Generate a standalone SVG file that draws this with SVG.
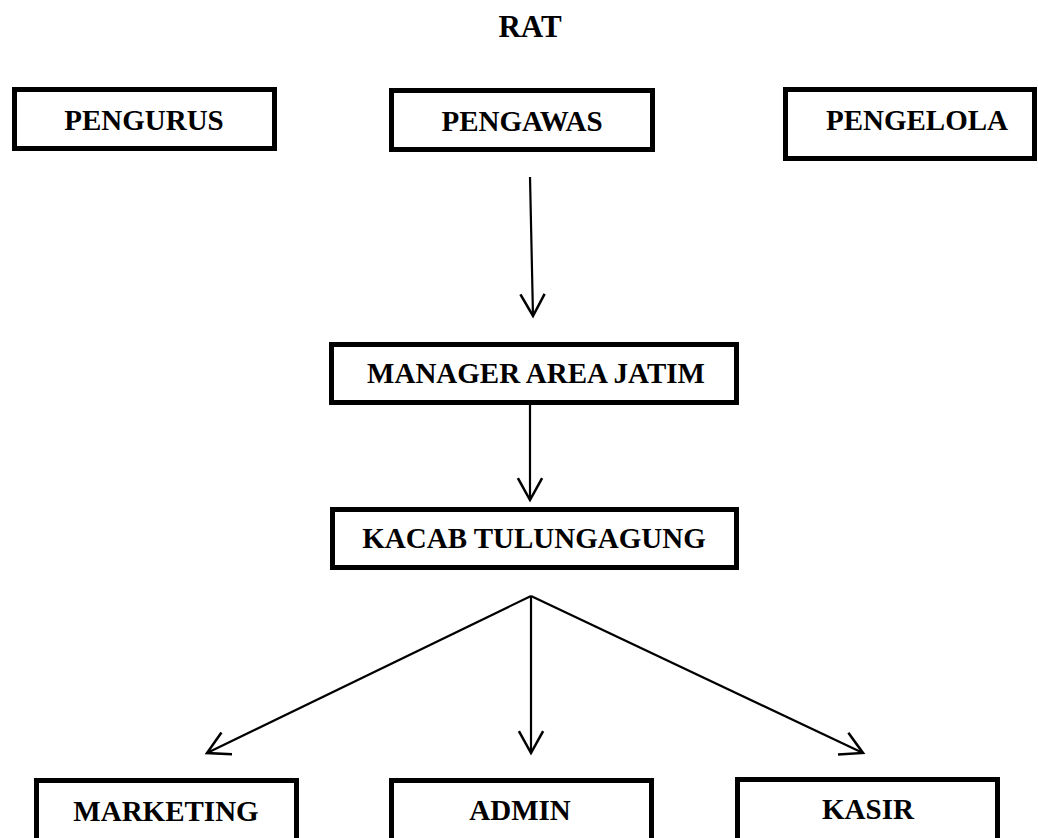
<svg xmlns="http://www.w3.org/2000/svg" width="1038" height="838" viewBox="0 0 1038 838">
  <style>
    .box { fill: #ffffff; stroke: #000000; stroke-width: 5; }
    .lbl { font-family: "Liberation Serif", "Times New Roman", serif; font-weight: bold; font-size: 29px; fill: #000000; text-anchor: middle; }
    .title { font-size: 31px; }
    .conn { stroke: #000000; stroke-width: 2.2; fill: none; }
  </style>
  <defs>
    <marker id="arrow" markerUnits="userSpaceOnUse" markerWidth="30" markerHeight="30" viewBox="-22 -12 26 24" refX="0" refY="0" orient="auto">
      <path d="M-19,-10.5 L0,0 L-19,10.5" fill="none" stroke="#000000" stroke-width="2.2"/>
    </marker>
  </defs>
  <rect width="1038" height="838" fill="#ffffff"/>

  <g id="rat">
    <text class="lbl title" x="530" y="37">RAT</text>
  </g>

  <g id="pengurus">
    <rect class="box" x="14.5" y="89.5" width="260" height="59"/>
    <text class="lbl" x="144" y="130">PENGURUS</text>
  </g>

  <g id="pengawas">
    <rect class="box" x="391.5" y="90.5" width="261" height="59"/>
    <text class="lbl" x="522" y="131">PENGAWAS</text>
  </g>

  <g id="pengelola">
    <rect class="box" x="785.5" y="89.5" width="249" height="69"/>
    <text class="lbl" x="917" y="130">PENGELOLA</text>
  </g>

  <g id="manager">
    <rect class="box" x="331.5" y="344.5" width="405" height="58"/>
    <text class="lbl" x="536" y="383">MANAGER AREA JATIM</text>
  </g>

  <g id="kacab">
    <rect class="box" x="332.5" y="509.5" width="404" height="58"/>
    <text class="lbl" x="534" y="548">KACAB TULUNGAGUNG</text>
  </g>

  <g id="marketing">
    <rect class="box" x="36.5" y="780.5" width="260" height="80"/>
    <text class="lbl" x="166" y="821">MARKETING</text>
  </g>

  <g id="admin">
    <rect class="box" x="391.5" y="780.5" width="260" height="80"/>
    <text class="lbl" x="520" y="820">ADMIN</text>
  </g>

  <g id="kasir">
    <rect class="box" x="737.5" y="779.5" width="260" height="80"/>
    <text class="lbl" x="868" y="819">KASIR</text>
  </g>

  <g id="connectors">
    <line class="conn" x1="530" y1="177" x2="533" y2="316" marker-end="url(#arrow)"/>
    <line class="conn" x1="530" y1="405" x2="530" y2="500" marker-end="url(#arrow)"/>
    <line class="conn" x1="531" y1="596" x2="207" y2="753" marker-end="url(#arrow)"/>
    <line class="conn" x1="531" y1="596" x2="531" y2="753" marker-end="url(#arrow)"/>
    <line class="conn" x1="531" y1="596" x2="863" y2="753" marker-end="url(#arrow)"/>
  </g>
</svg>
